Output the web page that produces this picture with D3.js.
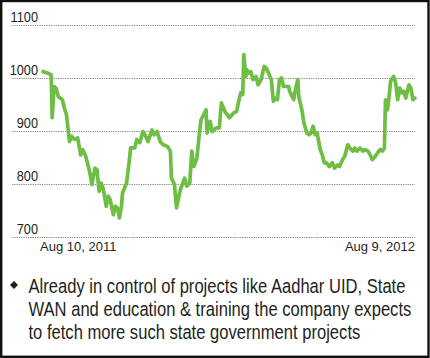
<!DOCTYPE html>
<html><head><meta charset="utf-8">
<script src="https://cdn.jsdelivr.net/npm/d3@7"></script>
<style>
html,body{margin:0;padding:0;background:#fff;}
svg{display:block;font-family:"Liberation Sans",Arial,sans-serif;}
</style></head>
<body>
<svg id="c" width="430" height="358"></svg>
<script>
// ---- data ----
const startDate = "2011-08-10";
const endDate = "2012-08-09";
const dayOffsets = [0,5,8,9,11,13,15,19,21,23,26,28,31,34,37,39,42,46,48,51,53,55,57,59,62,64,66,69,71,73,75,77,78,82,84,86,90,92,95,98,100,103,107,109,112,115,118,122,125,126,129,131,134,136,139,141,144,146,148,151,153,155,157,160,161,164,166,170,173,175,179,183,187,190,192,194,196,197,199,200,202,204,206,209,211,214,217,219,222,224,226,228,230,232,234,236,241,242,246,247,250,251,254,256,259,261,263,265,267,269,272,274,276,278,281,284,286,289,291,294,296,299,301,304,306,308,311,314,316,319,321,323,326,328,331,333,335,336,338,340,341,344,346,348,350,352,354,356,359,361,363,365];
const prices = [1012,1009,1006,925,984,980,965,959,943,931,880,890,884,887,855,865,852,821,799,830,827,786,802,792,758,777,770,742,758,755,736,758,783,802,833,868,868,884,878,899,893,880,902,893,899,880,874,871,862,811,799,755,783,796,811,796,802,862,833,849,887,921,928,940,896,918,899,906,906,953,935,925,934,937,956,972,969,1044,1003,1016,1009,1012,997,1003,987,997,1022,1019,1006,997,956,962,959,997,1000,984,984,975,959,972,997,965,940,915,896,893,896,909,893,896,865,855,840,840,833,840,830,836,833,846,852,874,868,862,868,862,868,862,865,862,855,846,852,858,865,862,868,959,940,972,994,1003,991,959,981,972,975,962,987,981,959,962];
const yTicks = [700,800,900,1000,1100];
const xTickLabels = ["Aug 10, 2011","Aug 9, 2012"];
const noteLines = [
  "Already in control of projects like Aadhar UID, State",
  "WAN and education & training the company expects",
  "to fetch more such state government projects"
];

// ---- drawing ----
const svg = d3.select("#c");
const parse = d3.timeParse("%Y-%m-%d");
const d0 = parse(startDate), d1 = parse(endDate);
const data = dayOffsets.map((d,i)=>({date:d3.timeDay.offset(d0,d), v:prices[i]}));

const x = d3.scaleTime().domain([d0,d1]).range([43,415]);
const y = d3.scaleLinear().domain([700,1100]).range([237,25]);
const gridX0 = 12, gridX1 = 415;

// frame
svg.append("rect").attr("x",1.2).attr("y",1).attr("width",427.3).attr("height",355.8)
  .attr("fill","#fff").attr("stroke","#111").attr("stroke-width",2.4);

// grid lines
svg.append("g").selectAll("line").data(yTicks).join("line")
  .attr("x1",gridX0).attr("x2",gridX1)
  .attr("y1",d=>Math.round(y(d))+0.5).attr("y2",d=>Math.round(y(d))+0.5)
  .attr("stroke","#8a8a8a").attr("stroke-width",1.2).attr("stroke-dasharray","1.3,1");

// y labels (slightly condensed, like the reference)
const yl = svg.append("g").selectAll("g").data(yTicks).join("g")
  .attr("transform",d=>`translate(38,${y(d)-3}) scale(0.88,1)`);
yl.append("text").attr("x",0).attr("y",0)
  .attr("text-anchor","end")
  .attr("font-size",14.5).attr("fill","#231f20")
  .text(d=>d);

// line
svg.append("path").datum(data)
  .attr("fill","none").attr("stroke","#6fbe44").attr("stroke-width",3.7)
  .attr("stroke-linejoin","round").attr("stroke-linecap","round")
  .attr("d",d3.line().x(d=>x(d.date)).y(d=>y(d.v)));

// x labels
svg.append("text").attr("x",x(d0)-3).attr("y",250.5).attr("font-size",13)
  .attr("fill","#231f20").text(xTickLabels[0]);
svg.append("text").attr("x",x(d1)).attr("y",250.5).attr("font-size",13)
  .attr("text-anchor","end").attr("fill","#231f20").text(xTickLabels[1]);

// bullet
svg.append("path").attr("d","M14,281 L18,285 L14,289 L10,285 Z").attr("fill","#231f20");

// note text, horizontally condensed to match reference widths
const targetW = 383; // width of the widest (second) line
const ng = svg.append("g");
const nt = ng.selectAll("text").data(noteLines).join("text")
  .attr("x",0).attr("y",(d,i)=>293+i*23)
  .attr("font-size",19.5).attr("fill","#231f20")
  .text(d=>d);
const natural = nt.nodes()[1].getComputedTextLength();
const sx = targetW / natural;
ng.attr("transform",`translate(28.5,0) scale(${sx},1)`);
</script>
</body></html>
